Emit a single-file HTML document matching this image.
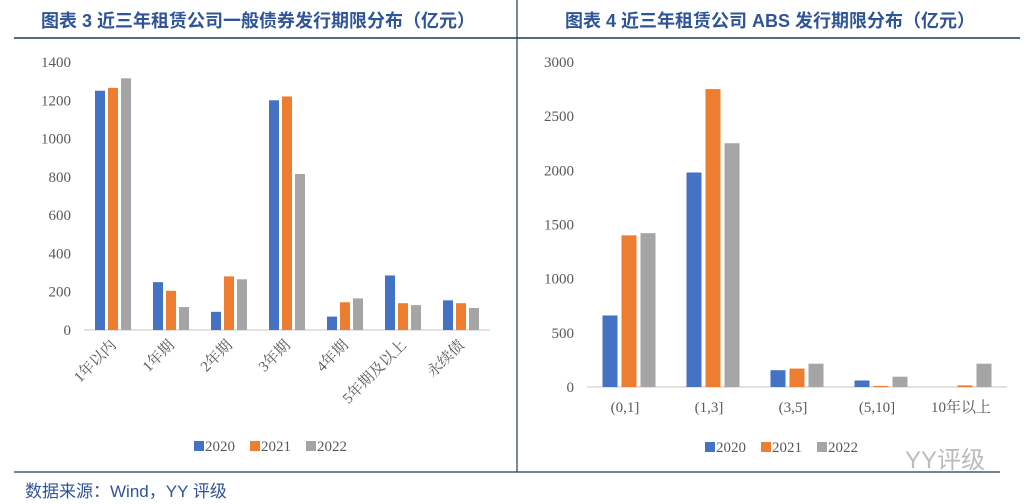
<!DOCTYPE html>
<html><head><meta charset="utf-8"><style>
body{margin:0;width:1031px;height:504px;background:#fff;overflow:hidden;font-family:"Liberation Serif","Noto Serif CJK SC",serif;}
svg{position:absolute;left:0;top:0}
.t{font-family:"Liberation Sans","Noto Sans CJK SC",sans-serif;font-weight:bold;font-size:18px;fill:#2f5597}
.tk{font-size:15px;fill:#595959}
</style></head><body>
<svg id="s" width="1031" height="504">
<line x1="14" y1="38" x2="1020" y2="38" stroke="#1f3b57" stroke-width="1.5"/>
<line x1="517" y1="0" x2="517" y2="472" stroke="#1f3b57" stroke-width="1.2"/>
<line x1="14" y1="472" x2="1000" y2="472" stroke="#1f3b57" stroke-width="1.2"/>
<text class="t" x="258" y="27" text-anchor="middle">图表 3 近三年租赁公司一般债券发行期限分布（亿元）</text>
<text class="t" x="770" y="27" text-anchor="middle">图表 4 近三年租赁公司 ABS 发行期限分布（亿元）</text>
<text x="25" y="497" style="font-family:'Liberation Sans','Noto Sans CJK SC',sans-serif;font-size:17px;fill:#2f5597">数据来源：Wind，YY 评级</text>
<text x="945" y="468" text-anchor="middle" style="font-family:'Liberation Sans','Noto Sans CJK SC',sans-serif;font-size:24px;fill:#bbb">YY评级</text>
<g id="g"></g>
</svg>
<script>
const leftCats=["1年以内","1年期","2年期","3年期","4年期","5年期及以上","永续债"];
const left2020=[1250,250,95,1200,70,285,155];
const left2021=[1265,205,280,1220,145,140,140];
const left2022=[1315,120,265,815,165,130,115];
const leftTicks=[0,200,400,600,800,1000,1200,1400];
const rightCats=["(0,1]","(1,3]","(3,5]","(5,10]","10年以上"];
const right2020=[660,1980,155,60,0];
const right2021=[1400,2750,170,10,15];
const right2022=[1420,2250,215,95,215];
const rightTicks=[0,500,1000,1500,2000,2500,3000];
const years=["2020","2021","2022"];
const colors=["#4472c4","#ed7d31","#a5a5a5"];
const NS="http://www.w3.org/2000/svg";
const g=document.getElementById('g');
function mk(t,a,txt){const e=document.createElementNS(NS,t);for(const k in a)e.setAttribute(k,a[k]);if(txt!=null)e.textContent=txt;g.appendChild(e);return e;}
function chart(c){
  const y=v=>c.y0-(v/c.max)*(c.y0-c.yTop);
  const x=i=>c.x0+c.step*(i+0.5);
  c.ticks.forEach(t=>{const e=mk('text',{x:c.tx,y:y(t)+5,'text-anchor':'end',class:'tk'},t);
    
    });
  const ax=mk('line',{x1:c.x0,x2:c.x0+c.step*c.cats.length,y1:c.y0,y2:c.y0,stroke:'#d9d9d9','stroke-width':1.5});
  
  
  c.series.forEach((s,k)=>s.forEach((v,i)=>{
    const bx=x(i)+(k-1)*(c.bw+c.gap)-c.bw/2;
    const r=mk('rect',{x:bx,y:y(v),width:c.bw,height:Math.max(0,c.y0-y(v)),fill:colors[k]});
    
    
  }));
  c.cats.forEach((n,i)=>{
    let e;
    if(c.rot){e=mk('text',{x:x(i)+4,y:c.y0+16,'text-anchor':'end',class:'tk',transform:`rotate(-45 ${x(i)+4} ${c.y0+16})`},n);}
    else e=mk('text',{x:x(i)-4,y:c.y0+25,'text-anchor':'middle',class:'tk'},n);
    
    
  });
  years.forEach((yr,k)=>{
    const lx=c.lx+k*56;
    const r=mk('rect',{x:lx,y:c.ly-10,width:10,height:10,fill:colors[k]});
    
    
    const t=mk('text',{x:lx+11,y:c.ly,class:'tk'},yr);
    
    
  });
}
chart({cats:leftCats,series:[left2020,left2021,left2022],ticks:leftTicks,max:1400,y0:330,yTop:62,x0:84,step:58,bw:10,gap:3,tx:71,rot:true,lx:194,ly:451});
chart({cats:rightCats,series:[right2020,right2021,right2022],ticks:rightTicks,max:3000,y0:387,yTop:62,x0:587,step:84,bw:15,gap:4,tx:574,rot:false,lx:705,ly:452});
</script>
</body></html>
